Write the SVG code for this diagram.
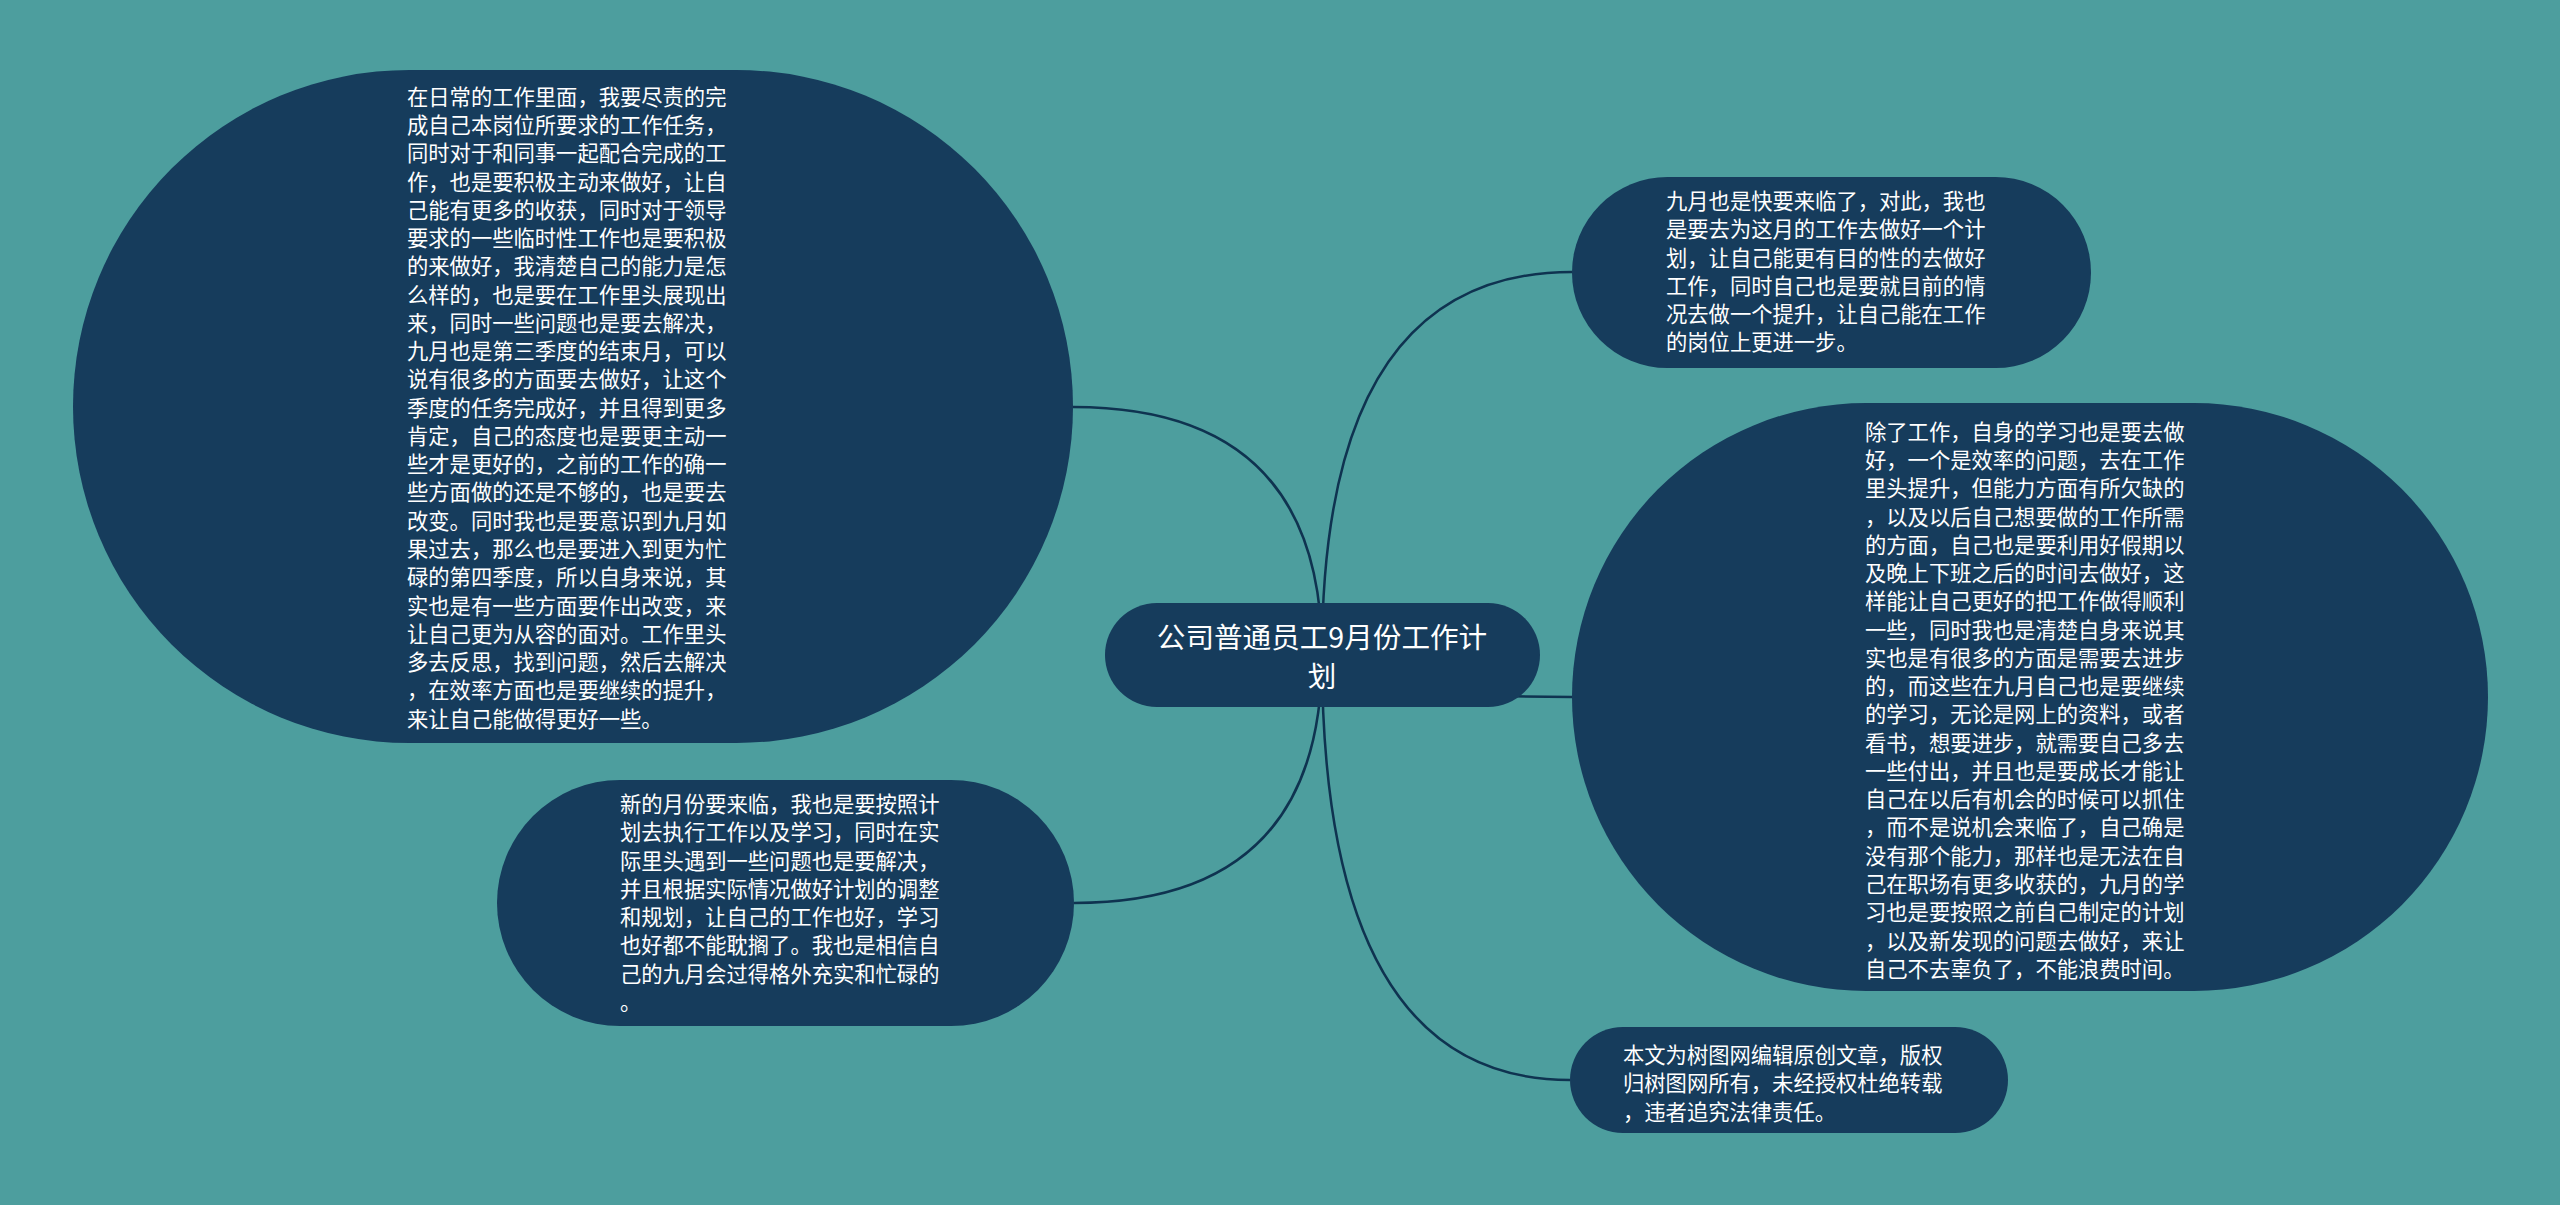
<svg xmlns="http://www.w3.org/2000/svg" width="2560" height="1205" viewBox="0 0 2560 1205">
<style>
.bg{fill:#4d9e9e}
.node{fill:#163c5c}
.link{fill:none;stroke:#0f3350;stroke-width:2.5}
.t{font-family:"Noto Sans CJK SC","Noto Sans",sans-serif;font-size:21.3px;fill:#ffffff}
.root{font-family:"Noto Sans CJK SC","Noto Sans",sans-serif;font-size:28.6px;fill:#ffffff;text-anchor:middle}
</style>
<rect class="bg" x="0" y="0" width="2560" height="1205"/>
<g id="connectors">
<path class="link" d="M1322,655 Q1322,407 1073,407"/>
<path class="link" d="M1322,655 Q1322,272 1572,272"/>
<path class="link" d="M1322,655 Q1322,697 1572,697"/>
<path class="link" d="M1322,655 Q1322,903 1074,903"/>
<path class="link" d="M1322,655 Q1322,1080 1570,1080"/>
</g>
<g id="root">
<rect class="node" x="1105" y="603" width="435" height="104" rx="52"/>
<text class="root" x="1322" y="647.5">公司普通员工9月份工作计<tspan x="1322" dy="39">划</tspan></text>
</g>
<g id="node-left">
<rect class="node" x="73" y="70" width="1000" height="673" rx="336.5"/>
<text class="t" x="407" y="104.7"><tspan x="407">在日常的工作里面，我要尽责的完</tspan><tspan x="407" dy="28.27">成自己本岗位所要求的工作任务，</tspan><tspan x="407" dy="28.27">同时对于和同事一起配合完成的工</tspan><tspan x="407" dy="28.27">作，也是要积极主动来做好，让自</tspan><tspan x="407" dy="28.27">己能有更多的收获，同时对于领导</tspan><tspan x="407" dy="28.27">要求的一些临时性工作也是要积极</tspan><tspan x="407" dy="28.27">的来做好，我清楚自己的能力是怎</tspan><tspan x="407" dy="28.27">么样的，也是要在工作里头展现出</tspan><tspan x="407" dy="28.27">来，同时一些问题也是要去解决，</tspan><tspan x="407" dy="28.27">九月也是第三季度的结束月，可以</tspan><tspan x="407" dy="28.27">说有很多的方面要去做好，让这个</tspan><tspan x="407" dy="28.27">季度的任务完成好，并且得到更多</tspan><tspan x="407" dy="28.27">肯定，自己的态度也是要更主动一</tspan><tspan x="407" dy="28.27">些才是更好的，之前的工作的确一</tspan><tspan x="407" dy="28.27">些方面做的还是不够的，也是要去</tspan><tspan x="407" dy="28.27">改变。同时我也是要意识到九月如</tspan><tspan x="407" dy="28.27">果过去，那么也是要进入到更为忙</tspan><tspan x="407" dy="28.27">碌的第四季度，所以自身来说，其</tspan><tspan x="407" dy="28.27">实也是有一些方面要作出改变，来</tspan><tspan x="407" dy="28.27">让自己更为从容的面对。工作里头</tspan><tspan x="407" dy="28.27">多去反思，找到问题，然后去解决</tspan><tspan x="407" dy="28.27">，在效率方面也是要继续的提升，</tspan><tspan x="407" dy="28.27">来让自己能做得更好一些。</tspan></text>
</g>
<g id="node-top-right">
<rect class="node" x="1572" y="177" width="519" height="191" rx="95.5"/>
<text class="t" x="1666" y="209"><tspan x="1666">九月也是快要来临了，对此，我也</tspan><tspan x="1666" dy="28.27">是要去为这月的工作去做好一个计</tspan><tspan x="1666" dy="28.27">划，让自己能更有目的性的去做好</tspan><tspan x="1666" dy="28.27">工作，同时自己也是要就目前的情</tspan><tspan x="1666" dy="28.27">况去做一个提升，让自己能在工作</tspan><tspan x="1666" dy="28.27">的岗位上更进一步。</tspan></text>
</g>
<g id="node-right">
<rect class="node" x="1572" y="403" width="916" height="588" rx="294"/>
<text class="t" x="1865" y="439.7"><tspan x="1865">除了工作，自身的学习也是要去做</tspan><tspan x="1865" dy="28.27">好，一个是效率的问题，去在工作</tspan><tspan x="1865" dy="28.27">里头提升，但能力方面有所欠缺的</tspan><tspan x="1865" dy="28.27">，以及以后自己想要做的工作所需</tspan><tspan x="1865" dy="28.27">的方面，自己也是要利用好假期以</tspan><tspan x="1865" dy="28.27">及晚上下班之后的时间去做好，这</tspan><tspan x="1865" dy="28.27">样能让自己更好的把工作做得顺利</tspan><tspan x="1865" dy="28.27">一些，同时我也是清楚自身来说其</tspan><tspan x="1865" dy="28.27">实也是有很多的方面是需要去进步</tspan><tspan x="1865" dy="28.27">的，而这些在九月自己也是要继续</tspan><tspan x="1865" dy="28.27">的学习，无论是网上的资料，或者</tspan><tspan x="1865" dy="28.27">看书，想要进步，就需要自己多去</tspan><tspan x="1865" dy="28.27">一些付出，并且也是要成长才能让</tspan><tspan x="1865" dy="28.27">自己在以后有机会的时候可以抓住</tspan><tspan x="1865" dy="28.27">，而不是说机会来临了，自己确是</tspan><tspan x="1865" dy="28.27">没有那个能力，那样也是无法在自</tspan><tspan x="1865" dy="28.27">己在职场有更多收获的，九月的学</tspan><tspan x="1865" dy="28.27">习也是要按照之前自己制定的计划</tspan><tspan x="1865" dy="28.27">，以及新发现的问题去做好，来让</tspan><tspan x="1865" dy="28.27">自己不去辜负了，不能浪费时间。</tspan></text>
</g>
<g id="node-bottom-left">
<rect class="node" x="497" y="780" width="577" height="246" rx="123"/>
<text class="t" x="620" y="812"><tspan x="620">新的月份要来临，我也是要按照计</tspan><tspan x="620" dy="28.27">划去执行工作以及学习，同时在实</tspan><tspan x="620" dy="28.27">际里头遇到一些问题也是要解决，</tspan><tspan x="620" dy="28.27">并且根据实际情况做好计划的调整</tspan><tspan x="620" dy="28.27">和规划，让自己的工作也好，学习</tspan><tspan x="620" dy="28.27">也好都不能耽搁了。我也是相信自</tspan><tspan x="620" dy="28.27">己的九月会过得格外充实和忙碌的</tspan><tspan x="620" dy="28.27">。</tspan></text>
</g>
<g id="node-bottom-right">
<rect class="node" x="1570" y="1027" width="438" height="106" rx="53"/>
<text class="t" x="1623" y="1063"><tspan x="1623">本文为树图网编辑原创文章，版权</tspan><tspan x="1623" dy="28.27">归树图网所有，未经授权杜绝转载</tspan><tspan x="1623" dy="28.27">，违者追究法律责任。</tspan></text>
</g>
</svg>
